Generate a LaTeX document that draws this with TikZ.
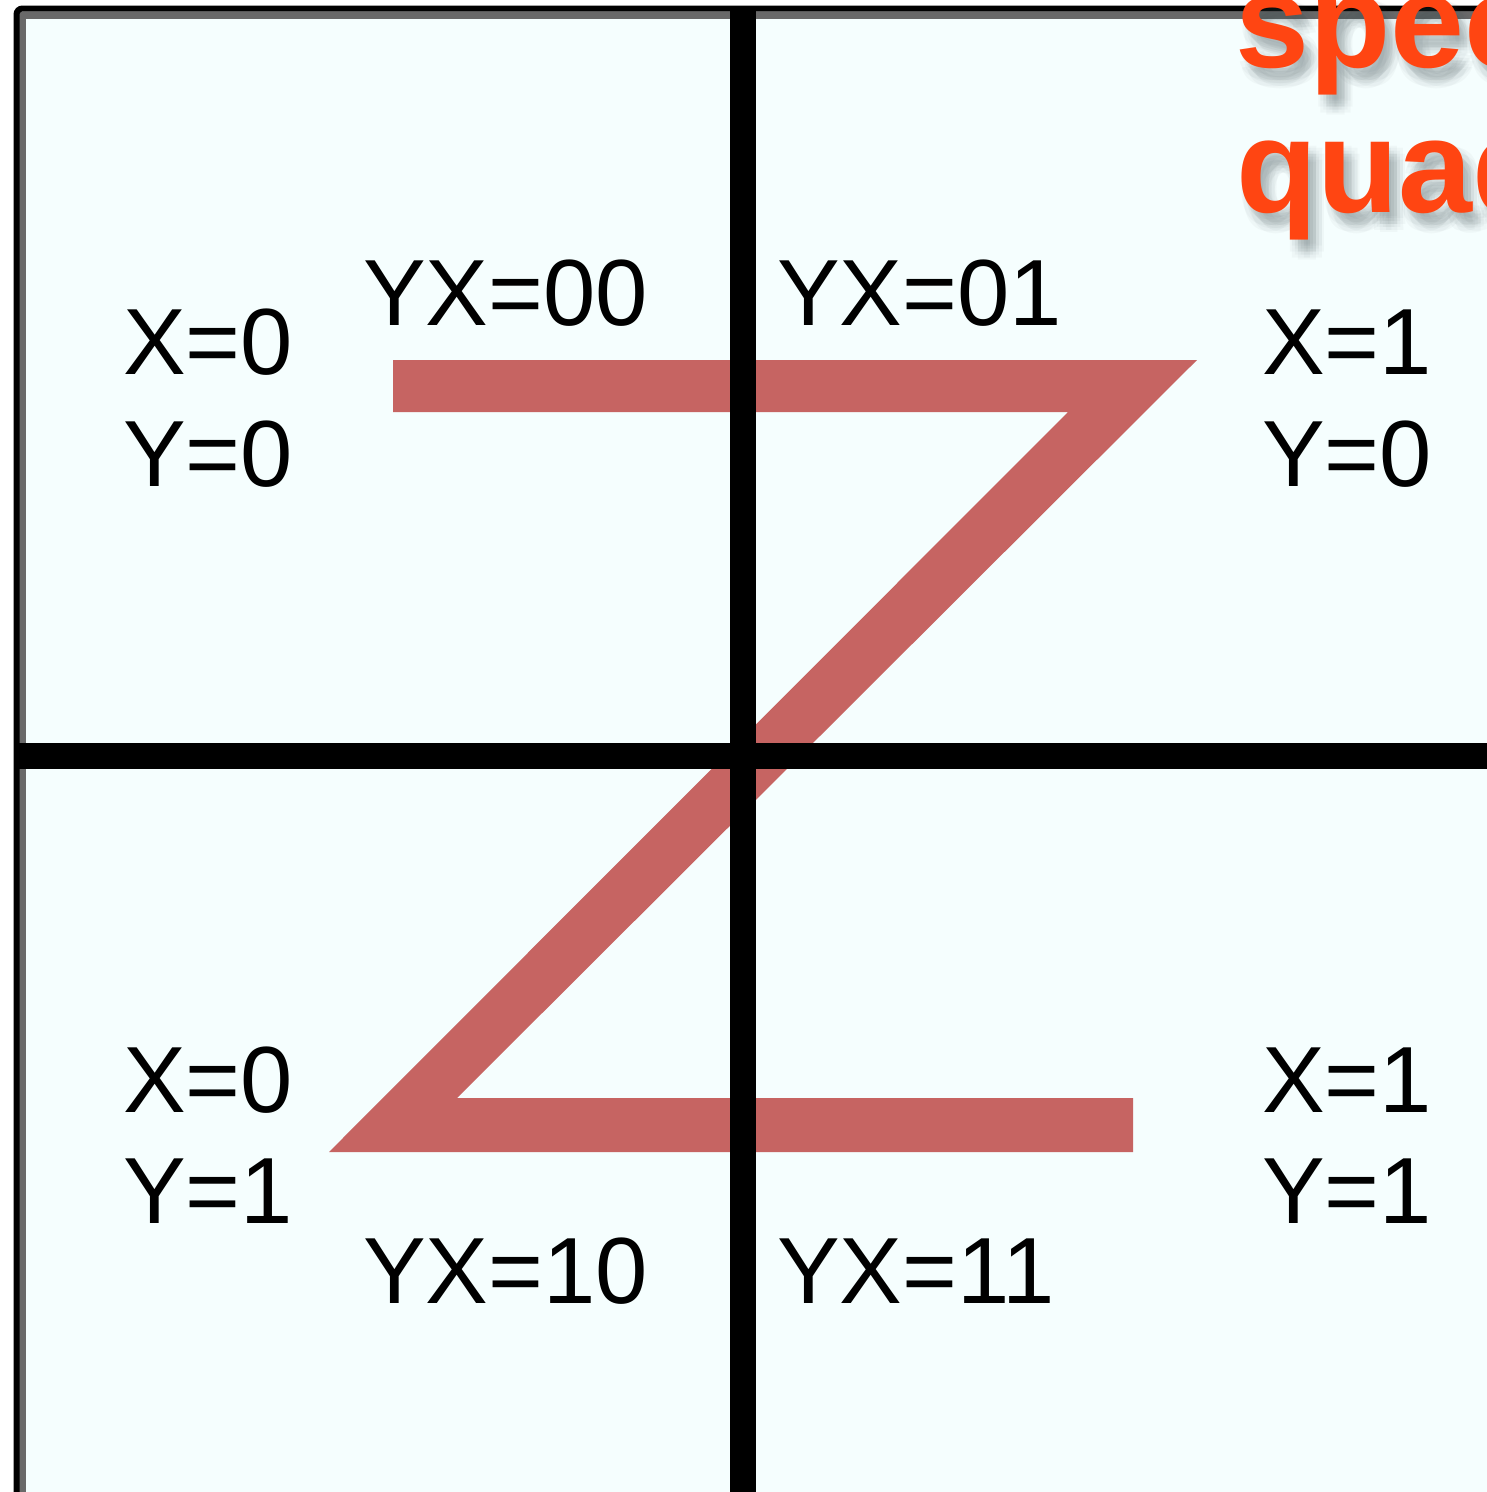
\documentclass[tikz,border=0pt]{standalone}
\usepackage{fontspec}
\setmainfont{Liberation Sans}
\definecolor{cellfill}{RGB}{245,254,254}
\definecolor{zred}{RGB}{198,100,98}
\definecolor{hot}{RGB}{255,69,18}
\definecolor{framegray}{RGB}{105,105,105}
\definecolor{shadowgray}{RGB}{60,75,80}
\begin{document}
\begin{tikzpicture}[x=1pt,y=-1pt,
  lbl/.style={anchor=base west,inner sep=0pt,font=\fontsize{94}{110}\selectfont},
  hotlbl/.style={anchor=base west,inner sep=0pt,text=hot,font=\bfseries\fontsize{133}{145}\selectfont},
  shadowlbl/.style={anchor=base west,inner sep=0pt,text=shadowgray,opacity=0.035,font=\bfseries\fontsize{133}{145}\selectfont},
  gridline/.style={line width=26pt,black}]
\useasboundingbox (0,0) rectangle (1487,1492);
\begin{scope}
\clip (0,0) rectangle (1487,1492);
\fill[white] (0,0) rectangle (1487,1492);
% frame and fill
\fill[cellfill] (19,12) rectangle (1500,1500);
\draw[framegray,line width=7pt] (22.5,1500) -- (22.5,15.5) -- (1500,15.5);
\draw[black,line width=6pt,rounded corners=6pt] (16.5,1500) -- (16.5,8.5) -- (1500,8.5);
% Z shape
\fill[zred] (393,360) -- (1197,360) -- (457,1098) -- (1133,1098) -- (1133,1152)
  -- (329,1152) -- (1068,412) -- (393,412) -- cycle;
% grid lines
\coordinate (hl) at (17,756);
\coordinate (hr) at (1500,756);
\coordinate (vt) at (743,6);
\coordinate (vb) at (743,1500);
\draw[gridline] (hl) -- (hr);
\draw[gridline] (vt) -- (vb);
% labels
\node[lbl] (x00) at (123,374) {X=0};
\node[lbl] (y00) at (123,486) {Y=0};
\node[lbl] (q00) at (363,325) {YX=00};
\node[lbl] (q01) at (777,325) {YX=01};
\node[lbl] (x10) at (1262,374) {X=1};
\node[lbl] (y10) at (1262,486) {Y=0};
\node[lbl] (x01) at (123,1112) {X=0};
\node[lbl] (y01) at (123,1223) {Y=1};
\node[lbl] (q10) at (363,1303) {YX=10};
\node[lbl] (q11) at (777,1303) {YX=11};
\node[lbl] (x11) at (1262,1112) {X=1};
\node[lbl] (y11) at (1262,1223) {Y=1};
% orange text with soft shadow
\foreach \dx/\dy in {8/12,0/12,16/12,8/4,8/20,2/6,14/6,2/18,14/18,5/9,11/9,5/15,11/15,8/12} {
  \node[shadowlbl] at (1235+\dx,67+\dy) {spec};
  \node[shadowlbl] at (1236+\dx,212+\dy) {quad};
}
\node[hotlbl] (spec) at (1235,67) {spec};
\node[hotlbl] (quad) at (1236,212) {quad};
\end{scope}
\end{tikzpicture}
\end{document}
